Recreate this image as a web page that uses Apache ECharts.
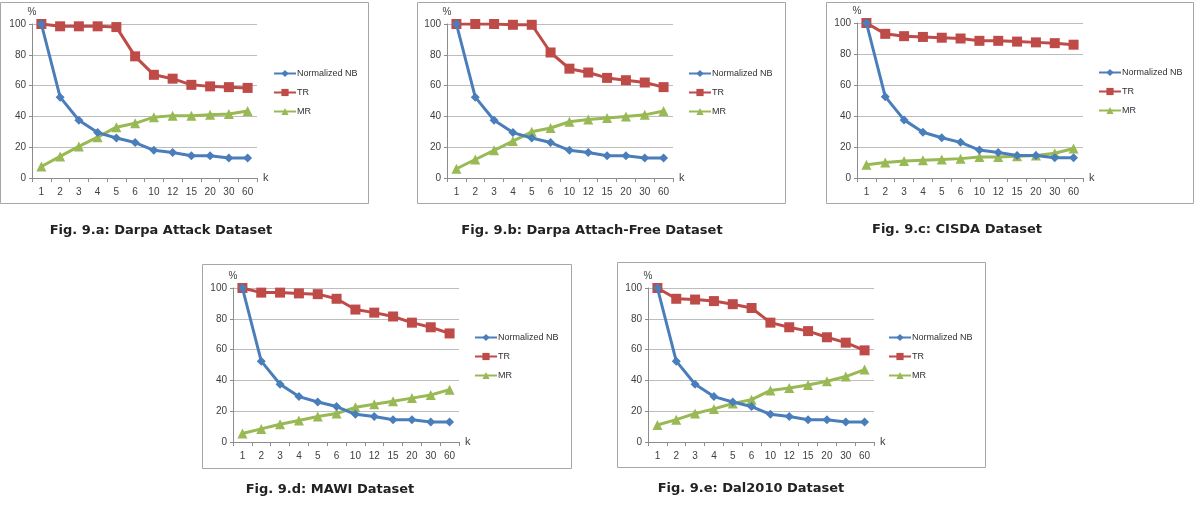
<!DOCTYPE html>
<html>
<head>
<meta charset="utf-8">
<script src="https://cdn.jsdelivr.net/npm/echarts@6/dist/echarts.min.js"></script>
<style>
  html, body { margin: 0; padding: 0; background: #fff; }
  #main { width: 1200px; height: 509px; }
</style>
</head>
<body>
<div id="main"></div>
<script>
const kValues = ['1', '2', '3', '4', '5', '6', '10', '12', '15', '20', '30', '60'];
const seriesNames = ['Normalized NB', 'TR', 'MR'];

// same NB curve in every panel
const nbA = [100, 52.5, 37.5, 29.5, 26, 23, 18, 16.5, 14.5, 14.5, 13, 13];
const trA = [100, 98.5, 98.5, 98.5, 98, 79, 67, 64.5, 60.5, 59.5, 59, 58.5];
const mrA = [7.5, 14, 20.5, 26.5, 33, 35.5, 39.5, 40.5, 40.5, 41, 41.5, 43.5];

const nbB = [100, 52.5, 37.5, 29.5, 26, 23, 18, 16.5, 14.5, 14.5, 13, 13];
const trB = [100, 100, 100, 99.5, 99.5, 81.5, 71, 68.5, 65, 63.5, 62, 59];
const mrB = [6, 12, 18, 24, 30, 32.5, 36.5, 38, 39, 40, 41, 43.5];

const nbC = [100, 52.5, 37.5, 29.5, 26, 23, 18, 16.5, 14.5, 14.5, 13, 13];
const trC = [100, 93, 91.5, 91, 90.5, 90, 88.5, 88.5, 88, 87.5, 87, 86];
const mrC = [8.5, 10, 11, 11.5, 12, 12.5, 13.5, 13.5, 14, 14.5, 16, 19];

const nbD = [100, 52.5, 37.5, 29.5, 26, 23, 18, 16.5, 14.5, 14.5, 13, 13];
const trD = [100, 97, 97, 96.5, 96, 93, 86, 84, 81.5, 77.5, 74.5, 70.5];
const mrD = [5.5, 8.5, 11.5, 14, 16.5, 18.5, 22.5, 24.5, 26.5, 28.5, 30.5, 34];

const nbE = [100, 52.5, 37.5, 29.5, 26, 23, 18, 16.5, 14.5, 14.5, 13, 13];
const trE = [100, 93, 92.5, 91.5, 89.5, 87, 77.5, 74.5, 72, 68, 64.5, 59.5];
const mrE = [11, 14.5, 18.5, 21.5, 25, 27.5, 33.5, 35, 37, 39.5, 42.5, 47];

const captions = [
  'Fig. 9.a: Darpa Attack Dataset',
  'Fig. 9.b: Darpa Attach-Free Dataset',
  'Fig. 9.c: CISDA Dataset',
  'Fig. 9.d: MAWI Dataset',
  'Fig. 9.e: Dal2010 Dataset'
];

const panelData = [
  [nbA, trA, mrA], [nbB, trB, mrB], [nbC, trC, mrC], [nbD, trD, mrD], [nbE, trE, mrE]
];

// layout of each panel: frame box, plot area, legend spot, caption spot
const panels = [
  { box: [0, 2, 368, 201],   grid: [32, 24, 225, 154],  legend: [273, 69],  cap: [156, 219] },
  { box: [417, 2, 368, 201], grid: [447, 24, 226, 154], legend: [688, 69],  cap: [587, 219] },
  { box: [826, 2, 367, 201], grid: [857, 23, 226, 155], legend: [1098, 68], cap: [952, 218] },
  { box: [202, 264, 369, 204], grid: [233, 288, 226, 154], legend: [474, 333], cap: [325, 478] },
  { box: [617, 262, 368, 205], grid: [648, 288, 226, 154], legend: [888, 333], cap: [746, 477] }
];

const colors = ['#4a7ebb', '#be4b48', '#98b954'];
const symbols = ['diamond', 'rect', 'triangle'];
const symbolSizes = [9, 10, 10];

const axisGray = '#8c8c8c';
const gridGray = '#bdbdbd';
const labelFont = { fontFamily: 'Liberation Sans', fontSize: 10, color: '#404040' };

const grids = [], xAxes = [], yAxes = [], legends = [], titles = [], graphics = [], series = [];

panels.forEach((p, i) => {
  grids.push({ left: p.grid[0], top: p.grid[1], width: p.grid[2], height: p.grid[3] });

  xAxes.push({
    type: 'category',
    gridIndex: i,
    data: kValues,
    boundaryGap: true,
    name: 'k',
    nameGap: 6,
    nameTextStyle: { ...labelFont, fontSize: 11, verticalAlign: 'middle' },
    axisLine: { lineStyle: { color: axisGray, width: 1 } },
    axisTick: { show: true, length: 4, lineStyle: { color: axisGray } },
    axisLabel: { ...labelFont, margin: 9, interval: 0 }
  });

  yAxes.push({
    type: 'value',
    gridIndex: i,
    min: 0,
    max: 100,
    interval: 20,
    name: '%',
    nameGap: 7,
    nameTextStyle: { ...labelFont, fontSize: 10, align: 'center' },
    axisLine: { show: true, lineStyle: { color: axisGray, width: 1 } },
    axisTick: { show: true, length: 3, lineStyle: { color: axisGray } },
    axisLabel: { ...labelFont, margin: 6 },
    splitLine: { lineStyle: { color: gridGray, width: 1 } }
  });

  legends.push({
    orient: 'vertical',
    left: p.legend[0],
    top: p.legend[1],
    padding: 0,
    itemWidth: 22,
    itemHeight: 9,
    itemGap: 10,
    data: seriesNames,
    textStyle: { fontFamily: 'Liberation Sans', fontSize: 9, color: '#303030', padding: [0, 0, 0, -4] }
  });

  titles.push({
    text: captions[i],
    left: p.cap[0],
    top: p.cap[1],
    textAlign: 'center',
    textStyle: { fontFamily: 'DejaVu Sans', fontWeight: 'bold', fontSize: 13, color: '#222' }
  });

  graphics.push({
    type: 'rect',
    shape: { x: p.box[0] + 0.5, y: p.box[1] + 0.5, width: p.box[2], height: p.box[3] },
    style: { fill: 'none', stroke: '#a6a6a6', lineWidth: 1 },
    silent: true
  });

  panelData[i].forEach((vals, s) => {
    series.push({
      name: seriesNames[s],
      type: 'line',
      xAxisIndex: i,
      yAxisIndex: i,
      data: vals,
      symbol: symbols[s],
      symbolSize: symbolSizes[s],
      lineStyle: { color: colors[s], width: 3 },
      itemStyle: { color: colors[s] },
      z: 3 - s
    });
  });
});

const chart = echarts.init(document.getElementById('main'));
chart.setOption({
  animation: false,
  title: titles,
  grid: grids,
  xAxis: xAxes,
  yAxis: yAxes,
  legend: legends,
  graphic: graphics,
  series: series
});
</script>
</body>
</html>
